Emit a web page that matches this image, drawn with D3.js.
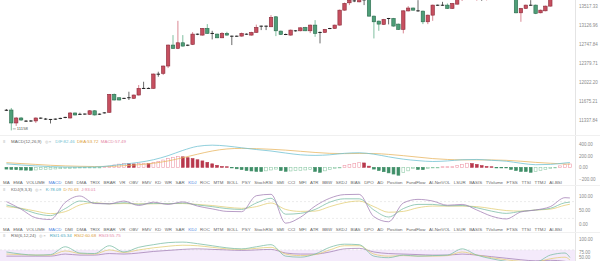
<!DOCTYPE html>
<html>
<head>
<meta charset="utf-8">
<script src="https://cdn.jsdelivr.net/npm/d3@7"></script>
<style>
  body { margin: 0; background: #fff; }
  svg { display: block; font-family: "Liberation Sans", Arial, sans-serif; }
</style>
</head>
<body>
<svg id="chart" width="600" height="261"></svg>
<script>
// ---- candles (one per bar, oldest first) ----
const opens = [11514,11514,11286,11373,11321,11317,11321,11368,11356,11350,
  11350,11363,11380,11373,11461,11435,11440,11438,11500,11436,
  11461,11473,11796,11734,11720,11733,11724,11783,11905,11902,
  11905,12171,12184,12322,12727,12662,12772,12721,12741,12944,
  12924,13058,12960,12944,12870,12958,12904,12900,12904,12944,
  12924,12978,13101,13105,13091,13294,13004,12934,12924,13008,
  13010,13078,13010,13125,12980,12978,13054,13058,13125,13431,
  13584,13619,13604,13640,13767,13308,13206,13139,13261,13261,
  13145,13038,13415,13475,13415,13411,13192,13328,13531,13536,
  13536,13467,13556,13650,13703,13788,13746,13830,13809,13895,
  13852,13938,13873,13809,13725,13376,13467,13531,13536,13376,
  13417,13515,13661,13725,13809,13767];
const closes = [11505,11286,11373,11338,11315,11324,11373,11373,11352,11345,
  11356,11368,11386,11461,11426,11440,11444,11500,11426,11444,
  11466,11796,11693,11693,11724,11736,11783,11905,11902,11905,
  12171,12165,12322,12727,12662,12772,12707,12727,12944,12940,
  13058,12958,12954,12870,12958,12924,12900,12904,12958,12940,
  12978,13078,13105,13101,13281,13010,12938,12938,13024,13012,
  13070,13010,13125,12958,12974,13038,13058,13125,13431,13571,
  13640,13629,13650,13650,13308,13192,13145,13240,13257,13105,
  13038,13417,13475,13431,13419,13192,13328,13536,13536,13531,
  13467,13571,13661,13703,13788,13746,13830,13809,13895,13852,
  13938,13873,13809,13746,13376,13467,13536,13536,13364,13431,
  13515,13661,13725,13809,13767,13830];
const highs = [11532,11550,11391,11391,11338,11338,11382,11382,11373,11356,
  11364,11377,11394,11479,11470,11466,11452,11514,11509,11452,
  11475,11802,11811,11738,11733,11843,11792,11966,12027,11920,
  12180,12214,12331,12737,12924,13212,12924,12737,12984,12954,
  13064,13145,13010,12954,12984,12990,12914,12914,12974,12958,
  12990,13135,13115,13115,13328,13308,13014,12954,13034,13024,
  13080,13089,13135,13226,12994,13048,13068,13135,13442,13588,
  13661,13661,13682,13682,13809,13318,13216,13251,13271,13271,
  13155,13427,13515,13486,13640,13421,13339,13546,13546,13604,
  13571,13581,13703,13746,13830,13852,13873,13895,13938,13981,
  14002,14024,13916,13895,13767,13477,13546,13640,13546,13442,
  13525,13703,13767,13852,13873,13873];
const lows = [11496,11158,11234,11321,11303,11303,11286,11356,11338,11277,
  11338,11352,11369,11364,11417,11426,11429,11426,11417,11426,
  11452,11465,11684,11684,11711,11693,11711,11774,11893,11893,
  11897,12120,12152,12284,12652,12648,12698,12707,12727,12924,
  12914,12948,12838,12864,12864,12914,12727,12890,12894,12930,
  12914,12968,13024,13024,13085,12904,12928,12924,12914,12994,
  13000,13004,12964,12890,12760,12968,13044,13048,13115,13421,
  13536,13598,13594,13536,13298,12858,13010,13129,13139,13095,
  13028,12958,13405,13421,13396,13145,13145,13212,13521,13521,
  13456,13456,13546,13623,13682,13725,13629,13625,13634,13767,
  13809,13830,13767,13703,13366,13192,13456,13521,13349,13366,
  13407,13504,13650,13700,13746,13746];
const priceTicks = [13517.33, 13126.96, 12747.84, 12379.71, 12022.20, 11675.21, 11337.84];

// ---- MACD(12,26,9) ----
const macdHist = [-30,-35,-40,-45,-48,-50,-45,-40,-36,-32,
  -28,-24,-20,-17,-14,-11,-8,-6,-4,-2,
  2,20,40,55,68,62,58,66,70,64,
  80,100,125,150,170,185,180,165,150,130,
  110,85,60,35,15,5,-10,-25,-40,-55,
  -62,-70,-72,-60,-45,-30,-55,-68,-62,-55,
  -50,-45,-40,-70,-85,-60,-40,-20,-5,30,
  50,65,80,75,20,-30,-55,-75,-95,-115,
  -135,-90,-60,-20,-35,-40,-20,-8,-4,0,
  3,6,30,50,70,65,50,30,15,5,
  -3,-6,-9,-35,-55,-70,-72,-85,-70,-50,
  -35,-20,-5,25,45,57.49];
// lines are read every third bar, plus the last bar
const dif = [60,40,25,12,5,3,5,25,55,85,130,200,290,360,380,365,335,305,280,245,
  215,205,215,240,250,225,180,140,115,100,110,130,135,120,105,70,45,50,75,82.46];
const dea = [80,65,50,35,25,18,14,16,28,45,70,110,165,225,280,315,325,320,310,295,
  275,255,240,235,238,236,222,200,175,150,135,128,128,127,120,105,85,70,58,53.72];
const macdTicks = [400, 200, 0, -200];

// ---- KDJ(9,3,3) ----
const kdjK = [68,55,38,30,55,82,75,72,76,70,74,72,75,68,62,55,52,75,92,35,
  38,52,78,90,90,50,25,55,70,70,65,66,58,46,38,45,50,56,76,78.09];
const kdjD = [62,56,46,37,44,68,76,72,73,72,72,73,73,70,66,60,56,62,75,52,
  45,46,62,76,82,62,42,45,58,64,64,64,62,55,48,46,50,53,67,70.63];
const kdjJ = [80,53,22,16,77,100,73,72,82,66,78,70,79,64,54,45,44,101,106,3,
  24,64,92,105,106,26,8,75,88,82,67,70,50,28,18,43,50,62,94,93.01];
const kdjTicks = [100, 50, 0];

// ---- RSI(6,12,24) ----
const rsi1 = [76,72,70,71,86,74,73,88,76,85,90,94,95,92,88,84,82,86,90,68,
  66,72,85,91,90,68,65,70,68,69,70,82,70,63,58,55,56,70,74,65.34];
const rsi2 = [72,71,70,70,78,73,72,80,75,80,84,87,89,88,85,82,81,83,85,72,
  69,71,80,88,88,72,68,69,68,68,69,76,70,65,61,58,57,63,66,60.68];
const rsi3 = [68,68,68,68,72,70,70,73,72,74,77,79,81,82,81,80,79,80,81,74,
  72,72,76,82,83,76,73,72,71,70,70,72,70,67,64,61,59,60,58,55.75];
const rsiTicks = [100, 75, 50];

const tabNames = ['MA','EMA','VOLUME','MACD','DMI','DMA','TRIX','BRAR','VR','OBV','EMV','KD','WR','SAR',
  'KDJ','ROC','MTM','BOLL','PSY','StochRSI','SMI','CCI','MFI','ATR','BBW','SKDJ','BIAS','DPO','AD',
  'Position','FundFlow','AI-NetVOL','LSUR','BASIS','TVolume','FTSS','TTSI','TTMJ','AI-BSI'];
const activeTabs = ['MACD', 'KDJ'];

(function() {
  const N = opens.length;
  const lineIdx = d3.range(0, N - 1, 3).concat([N - 1]);
  const plotRight = 575;
  const axisX = 579;
  const upColor = '#c64f5f', upEdge = '#8a2a3a';
  const downColor = '#4e9e78', downEdge = '#2c6a4c';
  const labelColor = '#8a8a8a';

  const svg = d3.select('#chart');
  const defs = svg.append('defs');
  function clip(id, y0, y1) {
    defs.append('clipPath').attr('id', id)
      .append('rect').attr('x', 0).attr('y', y0).attr('width', plotRight).attr('height', y1 - y0);
    return 'url(#' + id + ')';
  }

  const x = d3.scaleBand().domain(d3.range(N)).range([3.95, 3.95 + N * 4.9])
    .paddingInner(0.3).paddingOuter(0.15);
  const cx = i => x(i) + x.bandwidth() / 2;

  // separators
  svg.append('line').attr('x1', plotRight + 0.5).attr('x2', plotRight + 0.5)
    .attr('y1', 0).attr('y2', 261).attr('stroke', '#e4e4e4');
  [135.5, 185.5, 232.5].forEach(y => {
    svg.append('line').attr('x1', 0).attr('x2', 600).attr('y1', y).attr('y2', y)
      .attr('stroke', '#f0f0f0');
  });

  // ---------- main candles ----------
  const yP = d3.scaleLog().domain([11337.84, 13517.33]).range([120, 6]);
  const main = svg.append('g').attr('clip-path', clip('cMain', 0, 134));

  const candles = main.selectAll('g.candle').data(d3.range(N)).enter()
    .append('g').attr('class', 'candle');
  const isDoji = i => Math.abs(yP(opens[i]) - yP(closes[i])) < 1.1;
  const edge = i => isDoji(i) ? '#222' : (closes[i] > opens[i] ? upEdge : downEdge);

  candles.append('line')
    .attr('x1', cx).attr('x2', cx)
    .attr('y1', i => yP(highs[i])).attr('y2', i => yP(lows[i]))
    .attr('stroke', i => isDoji(i) ? '#444' : (closes[i] > opens[i] ? '#d06a78' : '#5fae88'))
    .attr('stroke-width', 0.8);

  candles.append('rect')
    .attr('x', i => x(i))
    .attr('width', x.bandwidth())
    .attr('y', i => isDoji(i) ? (yP(opens[i]) + yP(closes[i])) / 2 - 0.5 : yP(Math.max(opens[i], closes[i])))
    .attr('height', i => isDoji(i) ? 1 : Math.abs(yP(opens[i]) - yP(closes[i])))
    .attr('fill', i => isDoji(i) ? '#222' : (closes[i] > opens[i] ? upColor : downColor))
    .attr('stroke', edge)
    .attr('stroke-width', i => isDoji(i) ? 0 : 0.6);

  // lowest price marker
  const lowI = d3.minIndex(lows);
  main.append('line')
    .attr('x1', cx(lowI) + 1.5).attr('x2', cx(lowI) + 4.5)
    .attr('y1', yP(lows[lowI]) - 1.5).attr('y2', yP(lows[lowI]) - 1.5)
    .attr('stroke', '#666').attr('stroke-width', 0.5);
  main.append('text')
    .attr('x', cx(lowI) + 5.5).attr('y', yP(lows[lowI]) - 1.5)
    .attr('dominant-baseline', 'middle')
    .style('font-size', '4.2px').attr('fill', '#555')
    .text(lows[lowI]);

  function rightAxis(scale, ticks, maxY) {
    const g = svg.append('g').attr('transform', 'translate(' + axisX + ',0)')
      .call(d3.axisRight(scale).tickValues(ticks).tickSize(0).tickPadding(0)
        .tickFormat(d3.format('.2f')));
    g.select('.domain').remove();
    g.selectAll('text').style('font-size', '4.5px').attr('fill', labelColor)
      .style('font-family', '"Liberation Sans", Arial, sans-serif');
    if (maxY) {
      // keep a label that falls past the bottom edge inside the picture
      g.selectAll('.tick').filter(d => scale(d) > maxY)
        .attr('transform', 'translate(0,' + maxY + ')');
    }
  }
  rightAxis(yP, priceTicks);

  // ---------- panel headers ----------
  function header(y, name, items) {
    const g = svg.append('g').style('font-size', '4.4px');
    g.append('text').attr('x', 3).attr('y', y).attr('fill', '#888').text('\u2261');
    let t = g.append('text').attr('x', 11).attr('y', y).attr('fill', '#666').text(name);
    let px = 11 + t.node().getComputedTextLength() + 3;
    t = g.append('text').attr('x', px).attr('y', y).attr('fill', '#aaa').text('\u25CE  \u00D7');
    px += t.node().getComputedTextLength() + 4;
    items.forEach(it => {
      t = g.append('text').attr('x', px).attr('y', y).attr('fill', it[1]).text(it[0]);
      px += t.node().getComputedTextLength() + 2.5;
    });
  }

  function tabRow(y) {
    const g = svg.append('g').style('font-size', '4.4px');
    const nodes = tabNames.map(n => g.append('text').attr('y', y)
      .attr('fill', activeTabs.includes(n) ? '#4a86e0' : '#666').text(n));
    const widths = nodes.map(n => n.node().getComputedTextLength());
    const gap = (562 - 3 - d3.sum(widths)) / (tabNames.length - 1);
    let px = 3;
    nodes.forEach((n, k) => { n.attr('x', px); px += widths[k] + gap; });
  }

  function linePath(g, scale, values, color) {
    g.append('path')
      .datum(lineIdx.map((i, k) => [cx(i), scale(values[k])]))
      .attr('d', d3.line().curve(d3.curveMonotoneX))
      .attr('fill', 'none').attr('stroke', color).attr('stroke-width', 0.8);
  }

  // ---------- MACD ----------
  const difColor = '#74c3d3', deaColor = '#e8b865', macdColor = '#e58aa8';
  header(142.5, 'MACD(12,26,9)', [['DIF:' + dif[dif.length - 1], difColor],
    ['DEA:' + dea[dea.length - 1], '#dca040'], ['MACD:' + macdHist[N - 1], macdColor]]);
  const yM = d3.scaleLinear().domain([-200, 400]).range([179, 144]);
  const macdG = svg.append('g').attr('clip-path', clip('cMacd', 136, 179));
  macdG.selectAll('rect').data(d3.range(N)).enter().append('rect')
    .each(function(i) {
      const v = macdHist[i];
      const falling = i === 0 || v < macdHist[i - 1];
      const pos = v >= 0;
      const h = Math.max(0.6, Math.abs(yM(v) - yM(0)));
      const sel = d3.select(this)
        .attr('x', x(i) + 0.3).attr('width', x.bandwidth() - 0.6)
        .attr('y', pos ? yM(0) - h : yM(0)).attr('height', h)
        .attr('stroke-width', 0.6);
      if (falling) {
        sel.attr('fill', pos ? '#b8384c' : '#3f8f68').attr('stroke', pos ? '#b8384c' : '#3f8f68');
      } else {
        sel.attr('fill', '#fff').attr('stroke', pos ? '#ef9aaa' : '#8fcaa8');
      }
    });
  linePath(macdG, yM, dea, deaColor);
  linePath(macdG, yM, dif, difColor);
  rightAxis(yM, macdTicks);
  tabRow(183.5);

  // ---------- KDJ ----------
  const kColor = '#7fbfa8', dColor = '#e3cf7a', jColor = '#a684b8';
  header(190.5, 'KDJ(9,3,3)', [['K:' + kdjK[kdjK.length - 1], '#4aa8c0'],
    ['D:' + kdjD[kdjD.length - 1], '#dca040'], ['J:' + kdjJ[kdjJ.length - 1], macdColor]]);
  const yK = d3.scaleLinear().domain([0, 100]).range([224, 196]);
  const kdjG = svg.append('g').attr('clip-path', clip('cKdj', 192, 227));
  [80, 20].forEach(v => {
    kdjG.append('line').attr('x1', 0).attr('x2', plotRight).attr('y1', yK(v)).attr('y2', yK(v))
      .attr('stroke', '#dedede').attr('stroke-width', 0.6).attr('stroke-dasharray', '2,2');
  });
  linePath(kdjG, yK, kdjD, dColor);
  linePath(kdjG, yK, kdjK, kColor);
  linePath(kdjG, yK, kdjJ, jColor);
  rightAxis(yK, kdjTicks);
  tabRow(231);

  // ---------- RSI ----------
  header(236.8, 'RSI(6,12,24)', [['RSI1:' + rsi1[rsi1.length - 1], '#4aa8c0'],
    ['RSI2:' + rsi2[rsi2.length - 1].toFixed(2), '#dca040'], ['RSI3:' + rsi3[rsi3.length - 1], macdColor]]);
  const yR = d3.scaleLinear().domain([50, 100]).range([265.5, 239.5]);
  const rsiG = svg.append('g').attr('clip-path', clip('cRsi', 238, 261));
  rsiG.append('rect').attr('x', 0).attr('width', plotRight)
    .attr('y', yR(80)).attr('height', yR(20) - yR(80)).attr('fill', '#f4eafb');
  rsiG.append('line').attr('x1', 0).attr('x2', plotRight).attr('y1', yR(80)).attr('y2', yR(80))
    .attr('stroke', '#ddd').attr('stroke-width', 0.6).attr('stroke-dasharray', '2,2');
  linePath(rsiG, yR, rsi3, jColor);
  linePath(rsiG, yR, rsi2, dColor);
  linePath(rsiG, yR, rsi1, kColor);
  rightAxis(yR, rsiTicks, 258);
})();
</script>
</body>
</html>
